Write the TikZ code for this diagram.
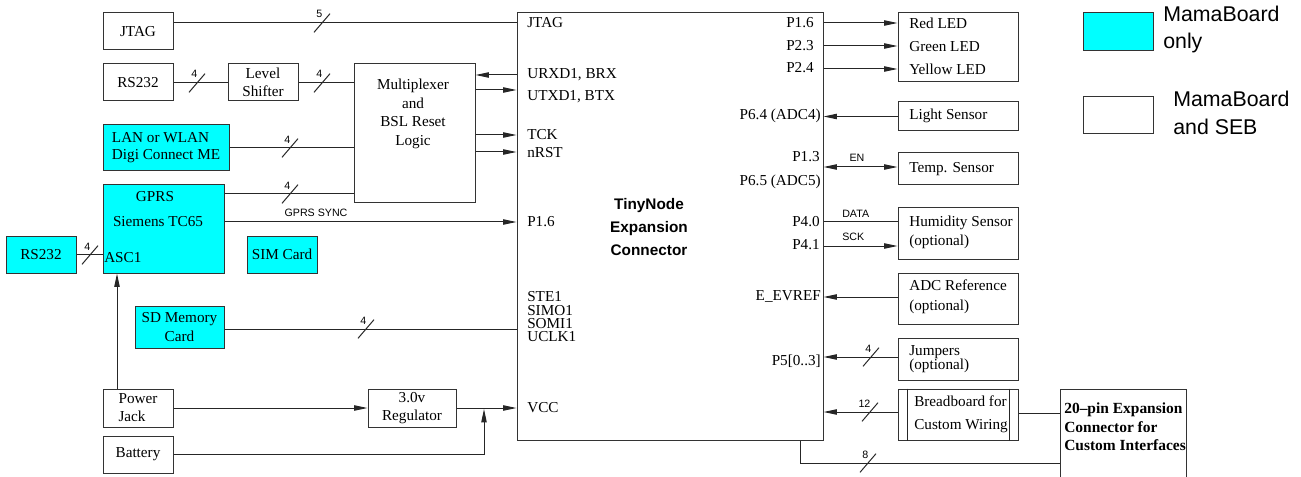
\documentclass[tikz,border=0pt]{standalone}
\usepackage{fontspec}
\setmainfont{Liberation Serif}
\setsansfont{Liberation Sans}
\usetikzlibrary{arrows.meta}
\definecolor{mbcyan}{RGB}{0,255,255}
\newcommand\rmtxt{\fontsize{11.4}{13.5}\selectfont}
\tikzset{
  pics/bus/.style={code={
    \draw[conn] (-6pt,-7pt) -- (6pt,7pt);
    \node[anchor=east, inner sep=0pt, font=\sffamily\fontsize{8}{8}\selectfont] at (0.5pt,6.5pt) {#1};}}
}
\begin{document}
\begin{tikzpicture}[x=0.75pt,y=-0.75pt,
  box/.style={draw=black!80, line width=0.75pt, inner sep=0pt, font=\rmtxt},
  cy/.style={box, fill=mbcyan},
  wh/.style 2 args={minimum width=#1*0.75pt, minimum height=#2*0.75pt},
  txt/.style={inner sep=0pt, font=\rmtxt},
  lw/.style={txt, anchor=west},
  le/.style={txt, anchor=east},
  small/.style={inner sep=0pt, font=\sffamily\fontsize{8}{8}\selectfont},
  conn/.style={draw=black!85, line width=0.75pt},
  tip/.tip={Triangle[length=10pt,width=4pt]},
  arr/.style={conn, -tip},
  legtxt/.style={inner sep=0pt, anchor=west, align=left, font=\sffamily\fontsize{16}{20.5}\selectfont}
]
\useasboundingbox (0,0) rectangle (1301,477);

% ---------- left side boxes ----------
\node[box, wh={70}{37}] (jtag) at (138,31.5) {JTAG};
\node[box, wh={70}{37}] (rsA) at (138,82.5) {RS232};
\node[box, wh={70}{37}, align=center, font=\fontsize{11.4}{13.5}\selectfont] (lvl) at (263,82.5) {Level\\Shifter};
\node[box, wh={121}{139}] (mux) at (414.5,133.5) {};
\node[txt, align=center, font=\fontsize{11.4}{14}\selectfont] (muxt) at (413,114) {Multiplexer\\and\\BSL Reset\\Logic};
\node[cy, wh={126}{46}, align=left, font=\fontsize{11.4}{12.75}\selectfont] (lan) at (166,148) {LAN or WLAN\\Digi Connect ME};
\node[cy, wh={121}{88}] (gprs) at (163.5,229) {};
\node[txt] (gprsA) at (155,197) {GPRS};
\node[txt] (gprsB) at (158,222) {Siemens TC65};
\node[lw] (asc) at (104,258) {ASC1};
\node[cy, wh={70}{37}] (rsB) at (41,254.5) {RS232};
\node[cy, wh={70}{37}] (sim) at (282,254.5) {SIM Card};
\node[cy, wh={89}{42}, align=center, font=\fontsize{11.4}{14.25}\selectfont] (sd) at (179.5,327) {SD Memory\\Card};
\node[box, wh={70}{38}, align=left, font=\fontsize{11.4}{13.5}\selectfont] (pwr) at (138,408) {Power\\Jack};
\node[box, wh={88}{38}, align=center, font=\fontsize{11.4}{13.5}\selectfont] (reg) at (412,408) {3.0v\\Regulator};
\node[box, wh={70}{37}] (bat) at (138,454.5) {Battery};

% ---------- main connector ----------
\node[box, wh={306}{427}] (main) at (670,226.5) {};
\node[inner sep=0pt, align=center, font=\sffamily\bfseries\fontsize{11.5}{17.25}\selectfont] (title) at (649,227) {TinyNode\\Expansion\\Connector};
\node[lw] (mJ) at (527,23) {JTAG};
\node[lw] (mU1) at (527,75) {URXD1, BRX};
\node[lw] (mU2) at (527,97) {UTXD1, BTX};
\node[lw] (mT) at (527,135) {TCK};
\node[lw] (mN) at (527,153) {nRST};
\node[lw] (mP) at (527,222) {P1.6};
\node[lw, align=left, font=\fontsize{11.4}{10}\selectfont] (mS) at (527,317) {STE1\\SIMO1\\SOMI1\\UCLK1};
\node[lw] (mV) at (527,408) {VCC};
\node[le] (r1) at (814,23) {P1.6};
\node[le] (r2) at (814,46) {P2.3};
\node[le] (r3) at (814,68) {P2.4};
\node[le] (r4) at (821,116) {P6.4 (ADC4)};
\node[le] (r5) at (820,157) {P1.3};
\node[le] (r6) at (821,182) {P6.5 (ADC5)};
\node[le] (r7) at (820,222) {P4.0};
\node[le] (r8) at (820,245) {P4.1};
\node[le] (r9) at (821,297) {E\_EVREF};
\node[le] (r10) at (821,361) {P5[0..3]};

% ---------- right side boxes ----------
\node[box, wh={120}{69}] (led) at (958,47.5) {};
\node[lw, align=left, font=\fontsize{11.4}{17.25}\selectfont] (ledt) at (909,46) {Red LED\\Green LED\\Yellow LED};
\node[box, wh={120}{29}] (light) at (958,116.5) {};
\node[lw] (lightt) at (909,116) {Light Sensor};
\node[box, wh={120}{32}] (temp) at (958,169) {};
\node[lw] (tempt) at (909,169) {Temp. Sensor};
\node[box, wh={120}{51}] (hum) at (958,233.5) {};
\node[lw, align=left, font=\fontsize{11.4}{14.25}\selectfont] (humt) at (909,232) {Humidity Sensor\\(optional)};
\node[box, wh={120}{51}] (adc) at (958,298.5) {};
\node[lw, align=left, font=\fontsize{11.4}{15}\selectfont] (adct) at (909,297) {ADC Reference\\(optional)};
\node[box, wh={120}{42}] (jump) at (958,359) {};
\node[lw, align=left, font=\fontsize{11.4}{10.5}\selectfont] (jumpt) at (909,359) {Jumpers\\(optional)};
\node[box, wh={120}{51}] (bread) at (958,414.5) {};
\node[lw, align=left, font=\fontsize{11.4}{17.25}\selectfont] (breadt) at (914,414.5) {Breadboard for\\Custom Wiring};
\draw[conn] (bread.north -| 907,0) -- (bread.south -| 907,0);
\draw[conn] (bread.north -| 1009,0) -- (bread.south -| 1009,0);
\node[box, wh={126}{96}] (pin20) at (1123,437) {};
\node[lw, align=left, font=\bfseries\fontsize{11.6}{13.9}\selectfont] (pint) at (1064,427) {20–pin Expansion\\Connector for\\Custom Interfaces};

% ---------- legend ----------
\node[cy, wh={70}{38}] (legA) at (1118,32) {};
\node[box, wh={70}{37}] (legB) at (1118,115.5) {};
\node[legtxt] (legAt) at (1163,29.5) {MamaBoard\\only};
\node[legtxt] (legBt) at (1173,113) {MamaBoard\\and SEB};

% ---------- connectors left ----------
\draw[conn] (jtag.east |- 0,23) -- (main.west |- 0,23);
\pic at (322,23) {bus=5};
\draw[conn] (rsA.east) -- (lvl.west);
\pic at (197,83) {bus=4};
\draw[conn] (lvl.east) -- (lvl.east -| mux.west);
\pic at (322,83) {bus=4};
\draw[conn] (lan.east) -- (lan.east -| mux.west);
\pic at (290,148) {bus=4};
\draw[conn] (gprs.east |- 0,194) -- (mux.west |- 0,194);
\pic at (290,194) {bus=4};
\draw[arr] (gprs.east |- 0,222) -- (main.west |- 0,222);
\node[small] (sync) at (316,213) {GPRS SYNC};
\draw[conn] (rsB.east) -- (rsB.east -| gprs.west);
\pic at (90,255) {bus=4};
\draw[arr] (main.west |- 0,75) -- (mux.east |- 0,75);
\draw[arr] (mux.east |- 0,90) -- (main.west |- 0,90);
\draw[arr] (mux.east |- 0,135) -- (main.west |- 0,135);
\draw[arr] (mux.east |- 0,152) -- (main.west |- 0,152);
\draw[conn] (sd.east |- 0,329) -- (main.west |- 0,329);
\pic at (366,329) {bus=4};
\draw[arr] (pwr.north -| 117,0) -- (gprs.south -| 117,0);
\draw[arr] (pwr.east) -- (reg.west);
\draw[arr] (reg.east) -- (reg.east -| main.west);
\coordinate (vj) at (484,409);
\draw[arr] (bat.east) -| (vj);

% ---------- connectors right ----------
\draw[arr] (main.east |- 0,23) -- (led.west |- 0,23);
\draw[arr] (main.east |- 0,46) -- (led.west |- 0,46);
\draw[arr] (main.east |- 0,69) -- (led.west |- 0,69);
\draw[arr] (light.west) -- (light.west -| main.east);
\draw[conn, tip-tip] (main.east |- 0,167) -- (temp.west |- 0,167);
\node[small] (en) at (857,158) {EN};
\draw[conn] (main.east |- 0,222) -- (hum.west |- 0,222);
\node[small, anchor=west] (data) at (842,214) {DATA};
\draw[arr] (main.east |- 0,246) -- (hum.west |- 0,246);
\node[small, anchor=west] (sck) at (842,237) {SCK};
\draw[arr] (adc.west |- 0,297) -- (main.east |- 0,297);
\draw[arr] (jump.west |- 0,357) -- (main.east |- 0,357);
\pic at (871,357) {bus=4};
\draw[arr] (bread.west |- 0,412) -- (main.east |- 0,412);
\pic at (870,412) {bus=12};
\draw[conn] (bread.east |- 0,413) -- (pin20.west |- 0,413);
\draw[conn] (main.south -| 800,0) |- (pin20.west |- 0,463);
\pic at (868,463) {bus=8};
\end{tikzpicture}
\end{document}
